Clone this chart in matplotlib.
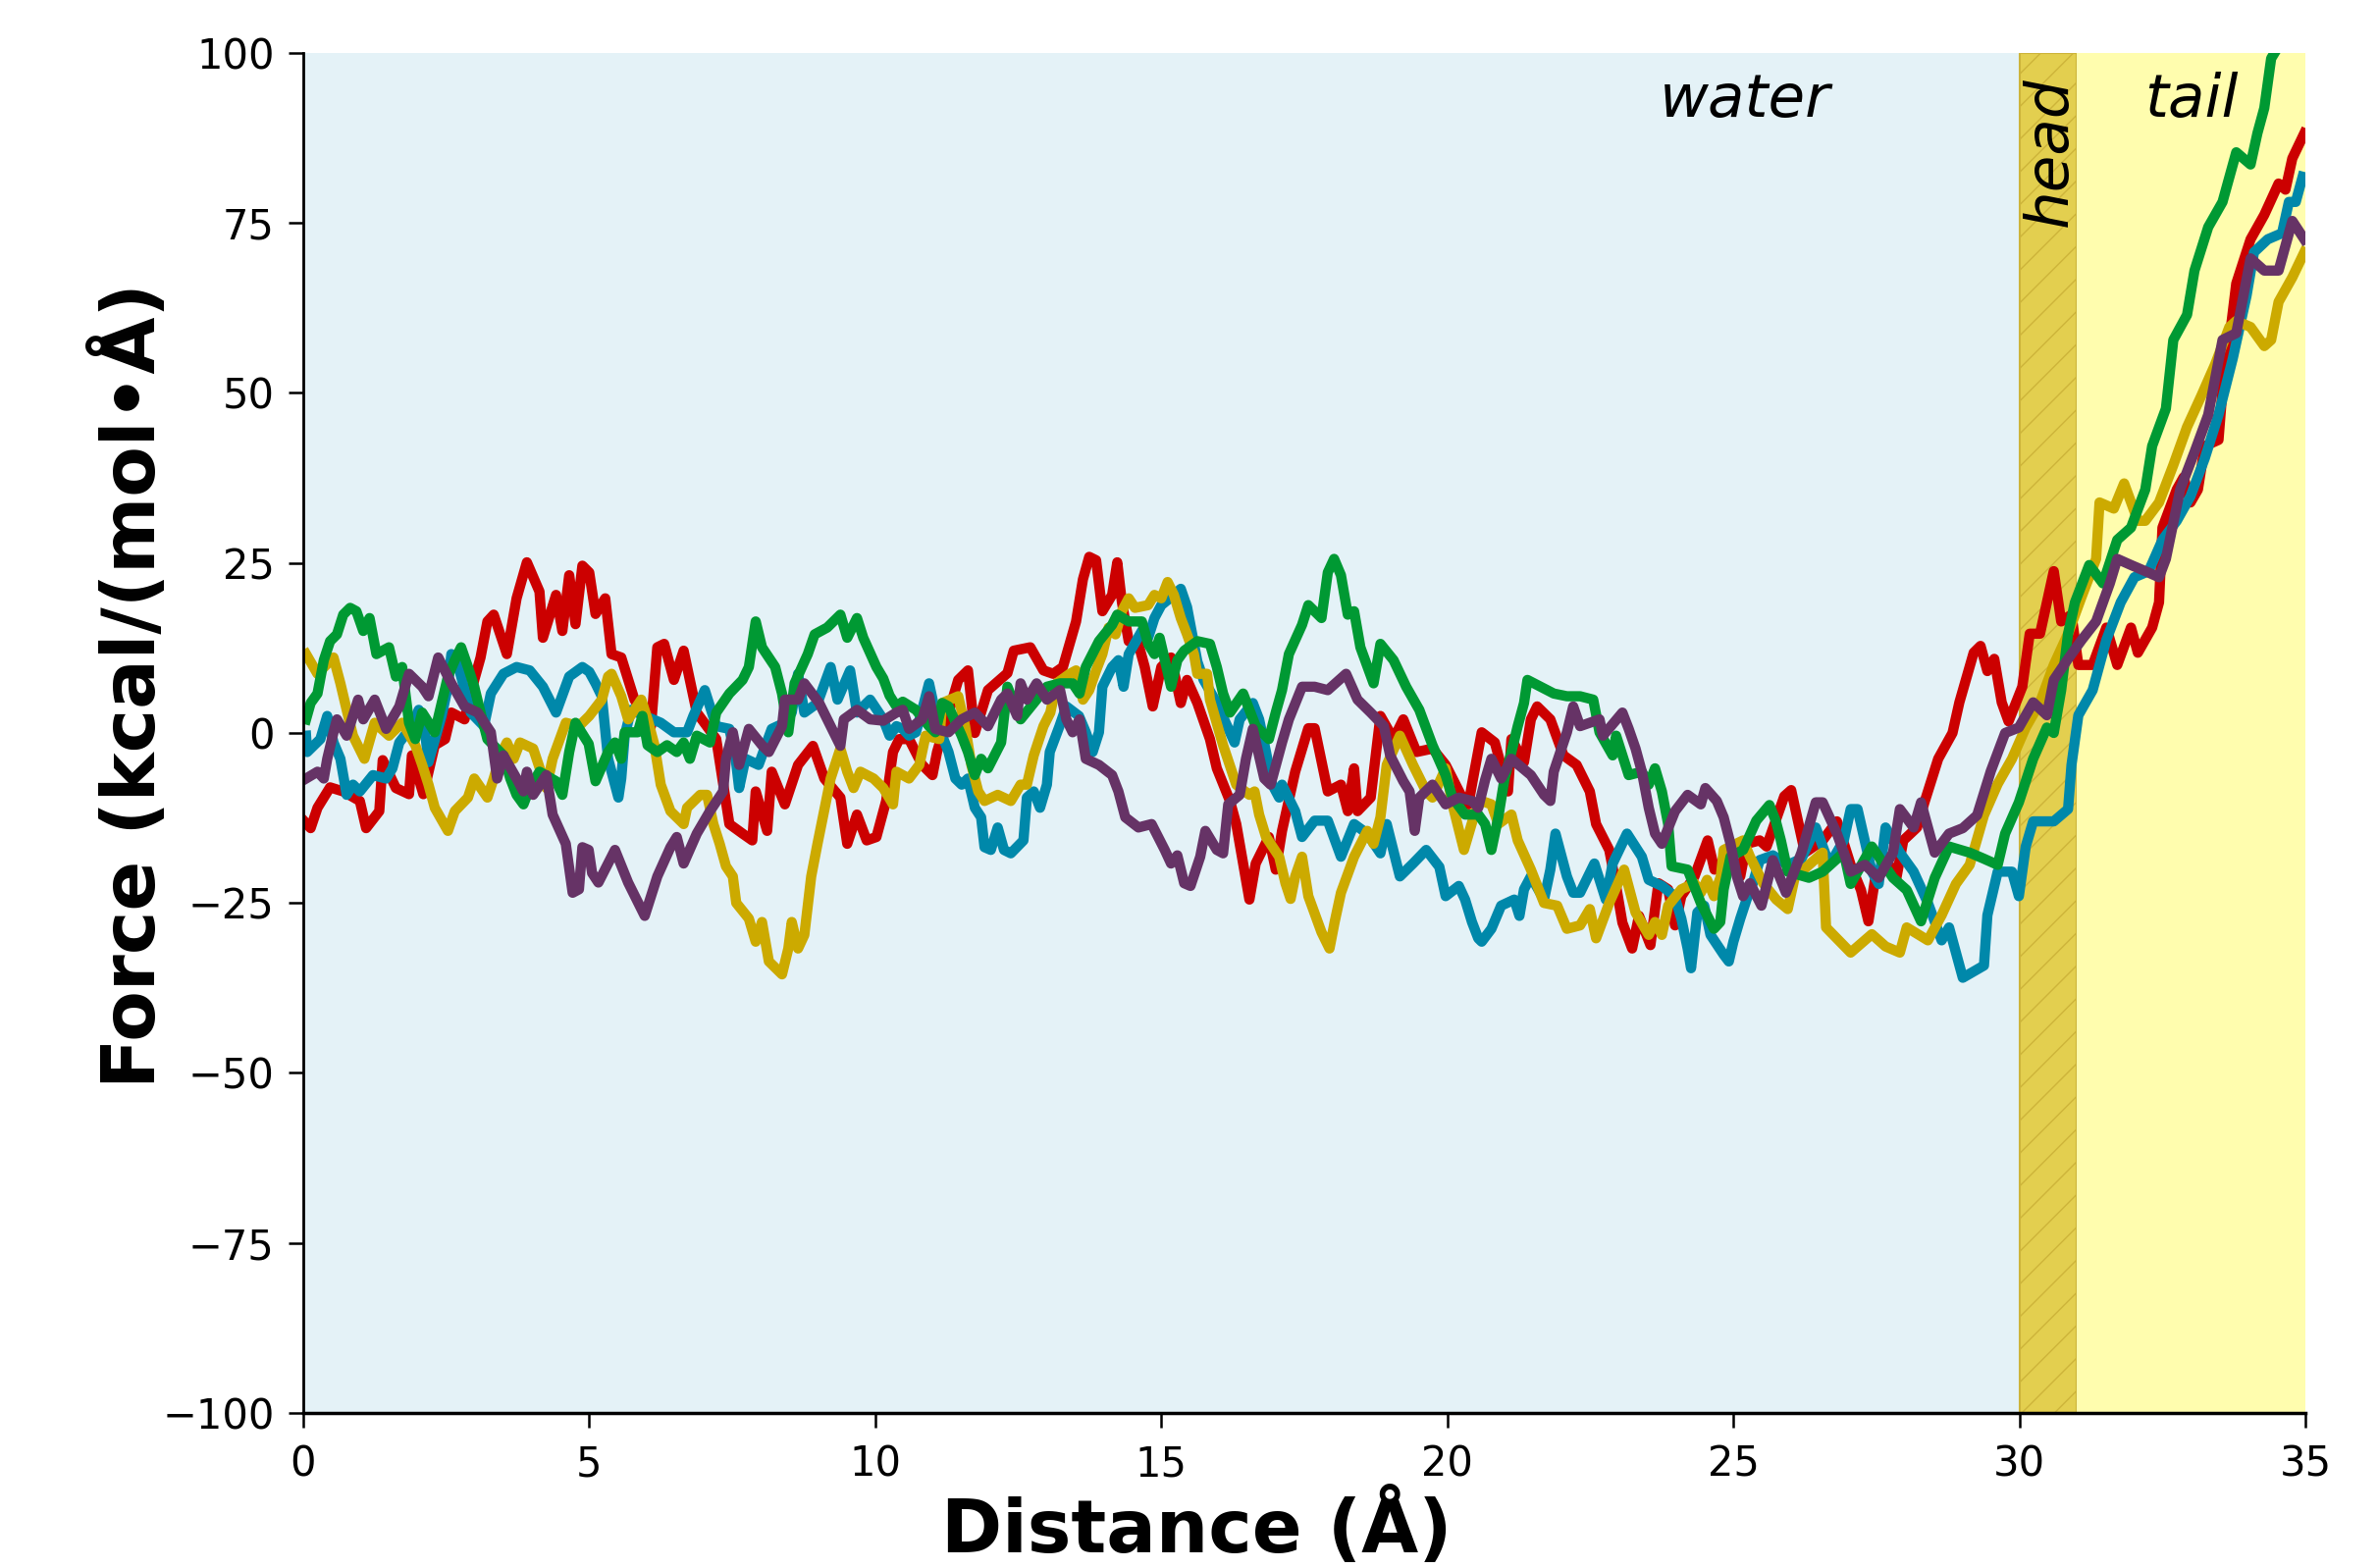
import matplotlib
matplotlib.use('Agg')
import matplotlib.pyplot as plt

# five force traces
red_x = [0.02, 0.13, 0.25, 0.47, 0.70, 0.99, 1.10, 1.33, 1.39, 1.62, 1.85, 1.90, 2.10, 2.30, 2.48, 2.59, 2.82, 2.99, 3.10, 3.22,
         3.33, 3.56, 3.73, 3.91, 4.13, 4.19, 4.42, 4.53, 4.65, 4.76, 4.88, 5.00, 5.11, 5.28, 5.39, 5.56, 5.79, 6.08, 6.19, 6.31,
         6.48, 6.65, 6.88, 7.22, 7.45, 7.68, 7.85, 7.91, 8.11, 8.19, 8.42, 8.65, 8.91, 9.11, 9.39, 9.51, 9.68, 9.85, 10.02, 10.19,
         10.31, 10.42, 10.59, 10.82, 11.00, 11.08, 11.45, 11.62, 11.74, 11.97, 12.31, 12.42, 12.71, 12.94, 13.11, 13.28, 13.51, 13.63, 13.74, 13.86,
         13.97, 14.14, 14.23, 14.31, 14.43, 14.60, 14.71, 14.85, 15.00, 15.17, 15.34, 15.45, 15.63, 15.85, 15.97, 16.20, 16.31, 16.43, 16.54, 16.65,
         16.88, 17.00, 17.11, 17.34, 17.57, 17.68, 17.91, 18.14, 18.26, 18.37, 18.43, 18.66, 18.83, 19.06, 19.23, 19.46, 19.74, 19.97, 20.26, 20.37,
         20.43, 20.60, 20.83, 21.06, 21.12, 21.34, 21.46, 21.57, 21.80, 22.03, 22.26, 22.49, 22.60, 22.83, 22.94, 23.06, 23.23, 23.35, 23.55, 23.63,
         23.69, 23.86, 23.98, 24.09, 24.32, 24.55, 24.67, 24.95, 25.12, 25.23, 25.46, 25.58, 25.89, 26.01, 26.25, 26.56, 26.81, 27.05, 27.23, 27.36,
         27.48, 27.72, 27.85, 27.97, 28.21, 28.34, 28.58, 28.83, 28.95, 29.20, 29.32, 29.44, 29.56, 29.69, 29.81, 30.05, 30.18, 30.36, 30.48, 30.60,
         30.73, 30.91, 31.03, 31.28, 31.52, 31.71, 31.95, 32.07, 32.32, 32.44, 32.50, 32.75, 32.87, 32.99, 33.12, 33.24, 33.48, 33.55, 33.67, 33.79,
         34.04, 34.28, 34.53, 34.65, 34.77, 34.98]
red_y = [-13, -14, -11, -8, -8.6, -10, -14, -11.5, -4, -8.1, -9, -3.3, -9, -1.8, -0.9, 3, 2, 7.8, 11.1, 16.4,
         17.4, 11.6, 19.8, 25.1, 20.8, 14, 20.3, 15, 23.2, 16, 24.6, 23.6, 17.5, 19.8, 11.6, 11.1, 4.9, 1.0, 12.6, 13.1,
         7.8, 12.1, 3, -0.9, -13.4, -14.8, -15.8, -8.6, -14.4, -5.7, -10.5, -4.7, -1.9, -6.7, -9.5, -16.3, -12, -15.8, -15.3, -10,
         -2.8, -0.9, -0.9, -4.7, -6.2, -2.8, 7.8, 9.2, 0, 6.3, 8.8, 12.1, 12.6, 9.2, 8.7, 9.7, 16.4, 22.6, 25.9, 25.4,
         17.9, 20.3, 25.1, 19.3, 13.5, 13.1, 9.7, 3.9, 9.7, 11.1, 4.4, 7.8, 4.4, -0.9, -5.2, -10, -13.4, -19.2, -24.5, -19.2,
         -15.3, -20.1, -14.4, -5.7, 0.7, 0.7, -8.6, -7.6, -11.5, -5.2, -11.5, -9.5, 2.5, -0.9, 2, -2.8, -2.3, -4.7, -9.5, -10.5,
         -7.6, 0.1, -1.4, -8.6, -0.9, -4.3, 2, 3.9, 2, -3.3, -4.7, -8.6, -13.4, -17.2, -22, -27.9, -31.7, -26.9, -31.2, -25.9,
         -22.1, -23, -28.3, -24, -21.1, -15.8, -20.1, -17.7, -21.1, -16.3, -15.8, -16.7, -9.3, -8.4, -17.6, -15.8, -13, -19.4, -23.1, -27.7,
         -21.3, -19.4, -21.3, -15.8, -13.9, -10.2, -3.8, 0, 4.5, 11.8, 12.8, 9.1, 10.9, 4.5, 1.7, 6.8, 14.6, 14.6, 19.2, 23.8,
         16.4, 17.4, 10, 10, 15.5, 10, 15.5, 11.8, 15.5, 19.2, 30.2, 35.8, 37.6, 33.9, 35.8, 42.2, 43.1, 50.5, 57.8, 66.1,
         72.6, 76.2, 80.8, 79.9, 84.5, 88.2]

green_x = [0.05, 0.13, 0.25, 0.36, 0.47, 0.59, 0.70, 0.82, 0.93, 1.05, 1.16, 1.28, 1.50, 1.62, 1.73, 1.85, 1.96, 2.08, 2.30, 2.42,
           2.53, 2.65, 2.76, 2.88, 2.99, 3.10, 3.22, 3.50, 3.62, 3.73, 3.85, 3.96, 4.13, 4.42, 4.53, 4.65, 4.76, 4.99, 5.11, 5.33,
           5.45, 5.56, 5.62, 5.85, 5.93, 6.02, 6.19, 6.36, 6.53, 6.65, 6.76, 6.88, 7.11, 7.22, 7.45, 7.68, 7.79, 7.91, 8.02, 8.25,
           8.37, 8.48, 8.59, 8.82, 8.94, 9.16, 9.39, 9.51, 9.68, 9.79, 10.02, 10.14, 10.25, 10.37, 10.48, 10.71, 10.94, 11.05, 11.17, 11.28,
           11.51, 11.62, 11.74, 11.85, 11.97, 12.20, 12.31, 12.54, 12.77, 13.00, 13.23, 13.45, 13.57, 13.68, 13.91, 14.14, 14.23, 14.43, 14.66, 14.77,
           14.88, 14.97, 15.17, 15.28, 15.40, 15.63, 15.85, 15.97, 16.08, 16.20, 16.43, 16.65, 16.88, 17.00, 17.11, 17.23, 17.46, 17.57, 17.80, 17.91,
           18.02, 18.14, 18.26, 18.37, 18.48, 18.71, 18.83, 19.06, 19.28, 19.51, 19.74, 19.97, 20.09, 20.31, 20.54, 20.66, 20.77, 20.89, 21.00, 21.12,
           21.23, 21.34, 21.40, 21.63, 21.86, 22.09, 22.32, 22.55, 22.66, 22.89, 22.95, 23.17, 23.40, 23.52, 23.63, 23.75, 23.86, 23.92, 24.20, 24.43,
           24.66, 24.77, 24.83, 24.95, 25.17, 25.40, 25.63, 25.74, 25.83, 25.95, 26.32, 26.56, 26.81, 26.93, 27.05, 27.42, 27.79, 28.03, 28.28, 28.52,
           28.77, 29.13, 29.38, 29.62, 29.75, 29.99, 30.24, 30.48, 30.60, 30.73, 30.85, 30.97, 31.22, 31.46, 31.71, 31.95, 32.20, 32.32, 32.56, 32.69,
           32.93, 33.06, 33.30, 33.55, 33.79, 34.04, 34.16, 34.28, 34.40, 34.53, 34.70]
green_y = [2, 4.4, 5.8, 10.7, 13.5, 14.5, 17.4, 18.4, 17.9, 15, 16.9, 11.6, 12.6, 8.3, 9.7, 1.5, -0.9, 3, 0.1, 4.4,
           8.3, 10.7, 12.6, 9.7, 6.8, 3, -0.9, -3.3, -6.7, -9.1, -10.5, -8.1, -5.7, -7.1, -9.1, -2.8, 1.5, -1.6, -7.1, -2.8,
           -1.4, -3.8, 0.1, 0.1, 2.5, -1.8, -2.8, -1.8, -2.8, -1.4, -3.8, -0.4, -1.4, 3, 5.8, 7.8, 9.7, 16.4, 12.6, 9.7,
           5.8, 0.1, 7.3, 11.6, 14.5, 15.5, 17.4, 14, 16.9, 14, 9.7, 8, 5.5, 3.9, 4.6, 3.4, 1, 0.1, 4.4, 3.9,
           -0.4, -2.8, -6.2, -3.8, -5.2, -1.4, 6.8, 2, 4.4, 6.8, 7.3, 7.3, 5.8, 9.7, 13.5, 15.9, 17.4, 16.4, 16.4, 13.1,
           11.6, 14, 6.8, 10.7, 12.1, 13.5, 13.1, 9.7, 5.8, 3, 5.8, 1, -0.9, 3, 6.3, 11.6, 15.9, 18.8, 16.9, 23.6,
           25.6, 23.2, 17.4, 17.9, 12.6, 7.3, 13.1, 10.7, 6.8, 3.4, -1.8, -6.2, -9.5, -12, -12, -13.4, -17.2, -12.4, -6.7, -2.8,
           1, 4.4, 7.8, 6.8, 5.8, 5.4, 5.4, 4.9, 0.1, -3.3, -0.4, -6.2, -5.7, -7.6, -5.2, -8.6, -13.4, -19.6, -20.1, -25,
           -28.8, -27.8, -23, -18.2, -17.2, -12.9, -10.6, -12.9, -15.8, -20.4, -21.3, -20.4, -18.5, -17.6, -22.2, -16.7, -21.3, -23.1, -27.7, -21.3,
           -16.7, -17.6, -18.5, -19.4, -14.8, -10.2, -3.8, 0.8, 0, 6.3, 14.6, 19.2, 24.7, 22, 28.4, 30.2, 35.8, 42.2, 47.7, 57.8,
           61.5, 68, 74.4, 78.1, 85.4, 83.6, 88.2, 91.9, 99.2, 101, 106]

blue_x = [0.05, 0.07, 0.30, 0.42, 0.53, 0.65, 0.76, 0.87, 0.99, 1.22, 1.45, 1.56, 1.68, 1.90, 2.02, 2.13, 2.19, 2.42, 2.53, 2.59,
          2.70, 2.93, 3.16, 3.28, 3.50, 3.73, 3.96, 4.19, 4.42, 4.65, 4.88, 5.00, 5.11, 5.22, 5.33, 5.51, 5.56, 5.62, 5.73, 5.97,
          6.25, 6.48, 6.71, 6.82, 7.02, 7.22, 7.45, 7.56, 7.62, 7.73, 7.96, 8.19, 8.42, 8.54, 8.65, 8.76, 8.99, 9.22, 9.34, 9.56,
          9.68, 9.91, 10.14, 10.25, 10.37, 10.48, 10.59, 10.71, 10.82, 10.94, 11.05, 11.17, 11.28, 11.40, 11.51, 11.62, 11.74, 11.85, 11.91, 12.02,
          12.14, 12.25, 12.37, 12.59, 12.65, 12.77, 12.88, 13.00, 13.05, 13.22, 13.34, 13.56, 13.68, 13.80, 13.91, 13.97, 14.14, 14.25, 14.34, 14.43,
          14.66, 14.77, 14.88, 15.00, 15.22, 15.34, 15.45, 15.54, 15.63, 15.74, 15.97, 16.20, 16.28, 16.37, 16.60, 16.71, 16.83, 16.94, 17.06, 17.11,
          17.34, 17.46, 17.68, 17.91, 18.14, 18.37, 18.60, 18.83, 18.94, 19.17, 19.40, 19.63, 19.86, 19.97, 20.20, 20.31, 20.43, 20.54, 20.60, 20.77,
          20.94, 21.17, 21.26, 21.34, 21.46, 21.69, 21.80, 21.89, 22.09, 22.20, 22.32, 22.57, 22.77, 22.89, 23.14, 23.40, 23.52, 23.75, 23.97, 24.09,
          24.20, 24.26, 24.37, 24.49, 24.60, 24.83, 24.92, 25.00, 25.12, 25.23, 25.34, 25.46, 25.69, 25.95, 26.19, 26.44, 26.68, 26.93, 27.05, 27.17,
          27.42, 27.54, 27.66, 27.91, 28.15, 28.40, 28.64, 28.77, 29.01, 29.38, 29.44, 29.62, 29.87, 29.99, 30.11, 30.24, 30.60, 30.85, 30.91, 31.03,
          31.28, 31.52, 31.77, 32.01, 32.26, 32.50, 32.75, 32.99, 33.24, 33.48, 33.73, 33.97, 34.10, 34.34, 34.59, 34.71, 34.83, 34.95]
blue_y = [-0.4, -2.8, -0.9, 2.5, -1.4, -3.8, -9.1, -7.6, -8.6, -6.2, -6.7, -5.2, -1.4, 1, 3.4, 0.1, -4.3, 2.5, 6.8, 11.6,
          10.2, 3, 1, 5.8, 8.7, 9.7, 9.2, 6.8, 3, 8.3, 9.7, 9, 7.3, 5.4, -3.8, -9.5, -6.7, -0.4, 3.4, 2.5,
          1.5, 0.1, 0.1, 2.5, 6.3, 1, 0.6, -3.8, -8.1, -3.8, -4.7, 0.6, 1.5, 3, 8.7, 3, 4.4, 9.7, 4.9, 9.2,
          3, 4.9, 2, -0.4, 1, 0.6, -0.4, 0.1, 3.4, 7.3, 3, -0.4, -2.8, -6.7, -7.6, -6.7, -11, -12.4, -16.8, -17.2,
          -13.9, -17.2, -17.7, -15.8, -9.5, -8.6, -11, -7.6, -2.8, 1, 3.9, 2.5, 0.1, -2.8, 0.1, 6.8, 9.7, 10.7, 6.8, 11.6,
          15, 14, 16.9, 18.8, 20.3, 21.2, 18.5, 14.5, 10.5, 7.8, 4.4, 0.1, -1.4, 2, 4.4, 2, -2.8, -7.6, -9.5, -7.6,
          -11.5, -15.3, -12.9, -12.9, -18.2, -13.4, -14.8, -17.7, -13.4, -21.1, -19.2, -17.2, -19.7, -24, -22.5, -24.5, -27.8, -30.2, -30.7, -28.8,
          -25.4, -24.5, -26.9, -23, -21.1, -24.5, -20.1, -14.8, -21.1, -23.5, -23.5, -19.2, -24.5, -19.2, -14.8, -18.2, -21.6, -22.5, -24, -27.3,
          -31.7, -34.6, -26.4, -25.4, -29.7, -32.6, -33.6, -30.7, -27.3, -24.5, -22.1, -18.7, -18, -19.4, -18.5, -13.9, -19.4, -15.8, -11.2, -11.2,
          -20.4, -22.2, -13.9, -17.6, -20.4, -25, -30.5, -28.6, -36, -34.2, -26.8, -20.4, -20.4, -24, -16.7, -13, -13, -11.2, -4.7, 2.6,
          6.3, 13.7, 19.2, 22.9, 23.8, 28.4, 31.2, 34.8, 40.4, 46.8, 55.1, 64.3, 70.7, 72.6, 73.5, 78.1, 78.1, 81.8]

yellow_x = [0.05, 0.25, 0.53, 0.65, 0.76, 0.87, 1.07, 1.25, 1.50, 1.73, 1.96, 2.08, 2.19, 2.30, 2.53, 2.65, 2.88, 2.99, 3.22, 3.33,
            3.45, 3.56, 3.68, 3.79, 4.02, 4.25, 4.36, 4.59, 4.82, 5.00, 5.22, 5.33, 5.39, 5.56, 5.68, 5.91, 6.02, 6.14, 6.25, 6.42,
            6.65, 6.71, 6.94, 7.06, 7.17, 7.28, 7.39, 7.51, 7.57, 7.79, 7.91, 8.02, 8.14, 8.37, 8.48, 8.54, 8.65, 8.76, 8.88, 8.99,
            9.22, 9.39, 9.51, 9.62, 9.74, 9.97, 10.14, 10.31, 10.37, 10.59, 10.77, 10.88, 11.12, 11.17, 11.45, 11.57, 11.68, 11.80, 11.91, 12.14,
            12.37, 12.54, 12.65, 12.77, 12.94, 13.06, 13.17, 13.40, 13.51, 13.63, 13.74, 13.86, 13.97, 14.08, 14.20, 14.31, 14.43, 14.54, 14.77, 14.88,
            15.00, 15.11, 15.22, 15.34, 15.45, 15.57, 15.63, 15.80, 15.85, 16.08, 16.31, 16.54, 16.63, 16.71, 16.83, 17.06, 17.17, 17.26, 17.34, 17.46,
            17.57, 17.80, 17.94, 18.03, 18.14, 18.37, 18.60, 18.71, 18.83, 18.94, 19.17, 19.40, 19.63, 19.74, 19.97, 20.09, 20.29, 20.49, 20.60, 20.77,
            20.89, 21.12, 21.23, 21.46, 21.69, 21.92, 22.09, 22.32, 22.49, 22.60, 22.83, 23.09, 23.29, 23.52, 23.63, 23.75, 23.86, 24.09, 24.32, 24.43,
            24.54, 24.66, 24.78, 24.83, 25.17, 25.29, 25.52, 25.75, 25.95, 26.07, 26.44, 26.56, 26.62, 27.05, 27.42, 27.66, 27.91, 28.03, 28.40, 28.64,
            28.89, 29.13, 29.38, 29.62, 29.87, 30.11, 30.36, 30.60, 30.85, 31.09, 31.34, 31.40, 31.65, 31.83, 32.07, 32.20, 32.44, 32.69, 32.93, 33.18,
            33.42, 33.67, 33.79, 34.04, 34.28, 34.40, 34.53, 34.77, 34.98]
yellow_y = [11.6, 8.7, 11.1, 7.3, 3.4, -0.4, -3.8, 1.5, -0.4, 1.5, -1.8, -4.7, -7.6, -11, -14.4, -11.5, -9.5, -6.7, -9.5, -6.7,
            -3.3, -1.4, -3.8, -1.4, -2.3, -8.1, -3.8, 1.5, 1, 2.5, 4.9, 8.3, 8.7, 5.4, 2, 4.9, 2, -1.8, -7.6, -11.5,
            -13.4, -11, -9.1, -9.1, -13.4, -16.3, -19.6, -21.1, -25, -27.3, -30.7, -27.8, -33.6, -35.5, -31.7, -27.8, -31.7, -29.7, -21.1, -16.3,
            -6.7, -2.3, -5.7, -8.1, -5.7, -6.7, -8.1, -10.5, -5.7, -6.7, -4.7, -0.4, -0.9, 4.4, 5.4, 1, -4.7, -8.6, -10, -9.1,
            -10, -7.6, -7.6, -3.3, 1, 3, 7.3, 8.7, 9.2, 4.9, 6.3, 9.2, 11.6, 15.5, 14.5, 17.9, 19.8, 18.4, 18.8, 20.3,
            19.8, 22.2, 20.3, 16.9, 14.5, 11.6, 8.7, 8.7, 4.9, -1.8, -7.6, -9.1, -8.6, -12, -15.3, -18.2, -22.1, -24.4, -21.1, -18.2,
            -24, -29.3, -31.7, -27.8, -23.5, -18.2, -14.4, -16.3, -12.4, -4.7, -0.4, -4.7, -8.6, -9.5, -5.2, -10.5, -17.2, -11.5, -10, -10.5,
            -13.4, -12, -15.8, -20.1, -25, -25.4, -28.8, -28.3, -25.9, -30.2, -25, -20.1, -26.4, -29.7, -27.8, -29.7, -25.4, -23, -22.1, -23.5,
            -21.6, -24, -21.1, -17.2, -15.8, -18.2, -22.1, -24.5, -25.9, -21.3, -18.5, -17.6, -28.6, -32.3, -29.6, -31.4, -32.3, -28.6, -30.5, -26.8,
            -22.2, -19.4, -12.1, -7.5, -3.8, 0.8, 4.5, 10, 14.6, 20.1, 25.6, 33.9, 33, 36.7, 31.2, 31.2, 33.9, 39.4, 45, 49.6,
            54.2, 59.7, 60.6, 59.7, 56.9, 57.8, 63.4, 67, 70.7]

purple_x = [0.05, 0.25, 0.36, 0.42, 0.53, 0.59, 0.76, 0.96, 1.05, 1.25, 1.45, 1.68, 1.85, 2.08, 2.19, 2.36, 2.59, 2.82, 3.05, 3.28,
            3.39, 3.50, 3.73, 3.85, 3.91, 4.02, 4.25, 4.36, 4.59, 4.71, 4.82, 4.88, 4.99, 5.05, 5.16, 5.39, 5.45, 5.68, 5.91, 5.97,
            6.19, 6.42, 6.53, 6.65, 6.88, 7.11, 7.34, 7.39, 7.51, 7.62, 7.79, 8.02, 8.14, 8.37, 8.42, 8.65, 8.76, 9.02, 9.22, 9.39,
            9.45, 9.68, 9.91, 10.14, 10.37, 10.48, 10.59, 10.82, 10.94, 11.05, 11.28, 11.51, 11.74, 11.97, 12.20, 12.31, 12.48, 12.54, 12.65, 12.82,
            13.00, 13.23, 13.34, 13.45, 13.57, 13.68, 13.91, 14.14, 14.25, 14.37, 14.60, 14.83, 15.06, 15.17, 15.28, 15.40, 15.51, 15.68, 15.77, 15.97,
            16.08, 16.17, 16.37, 16.48, 16.60, 16.80, 16.91, 17.11, 17.23, 17.46, 17.68, 17.91, 18.23, 18.43, 18.66, 18.89, 19.00, 19.23, 19.34, 19.43,
            19.51, 19.74, 19.97, 20.20, 20.43, 20.54, 20.66, 20.77, 20.94, 21.12, 21.46, 21.69, 21.80, 21.86, 22.09, 22.20, 22.32, 22.66, 22.72, 23.06,
            23.17, 23.29, 23.40, 23.52, 23.63, 23.75, 23.98, 24.20, 24.43, 24.51, 24.71, 24.83, 24.95, 25.06, 25.17, 25.29, 25.49, 25.69, 25.92, 26.19,
            26.44, 26.56, 26.81, 27.05, 27.30, 27.54, 27.79, 27.91, 28.15, 28.28, 28.52, 28.77, 29.01, 29.26, 29.50, 29.75, 29.99, 30.24, 30.48, 30.60,
            30.85, 31.09, 31.34, 31.58, 31.71, 31.95, 32.20, 32.44, 32.56, 32.81, 33.06, 33.30, 33.55, 33.79, 34.04, 34.28, 34.53, 34.77, 34.98]
purple_y = [-6.7, -5.7, -6.7, -3.8, 0.1, 2, -0.4, 4.9, 2, 4.9, 0.6, 3.9, 8.7, 6.8, 5.4, 11.1, 7.3, 3.9, 3, 0.1,
            -6.7, -3.3, -6.7, -8.6, -5.7, -9.1, -6.2, -12, -16.3, -23.5, -23, -16.8, -17.2, -20.6, -22, -18.2, -17.2, -22, -25.9, -26.9,
            -21.1, -16.8, -15.3, -19.2, -14.8, -11.5, -8.6, -3.8, 0.1, -4.7, 0.6, -1.8, -2.8, 1, 4.9, 4.9, 7.3, 4.4, 1, -1.9,
            2, 3.4, 2, 1.8, 3, 3.4, 0.6, 2, 5.4, 0.6, 0.1, 2, 3, 1, 4.9, 5.8, 2.5, 7.3, 4.9, 7.3,
            4.9, 6.3, 2, 0.1, 2, -3.8, -4.7, -6.2, -8.6, -12.4, -13.9, -13.4, -17.2, -19.2, -18, -22.1, -22.5, -18.2, -14.4, -17.2,
            -17.7, -10.5, -9.1, -3.8, 0.6, -6.7, -7.6, -1.4, 2, 6.8, 6.8, 6.3, 8.7, 4.9, 3, 1, -3.3, -7.1, -8.6, -14.4,
            -9.5, -7.6, -10.5, -9.5, -10, -11, -6.9, -3.8, -6.7, -3.8, -6.2, -9.1, -10, -5.7, 0.1, 3.9, 1, 2, -0.4, 3,
            0.6, -2.3, -5.7, -11, -14.8, -16.3, -11.5, -9.1, -10.5, -8.1, -10, -12.4, -16.3, -21.1, -24, -22.1, -25.4, -18.7, -23.5, -17.6,
            -10.2, -10.2, -14.8, -20.4, -19.4, -21.3, -17.6, -11.2, -13.9, -10.2, -17.6, -14.8, -14, -12.1, -5.6, 0, 0.8, 4.5, 2.6, 7.8,
            10.9, 13.7, 16.4, 22, 25.6, 24.7, 23.8, 22.9, 25.6, 35.8, 41.3, 46.8, 57.8, 58.8, 69.8, 68, 68, 75.3, 72.6]

series = [(red_x, red_y, '#CC0000'),
          (blue_x, blue_y, '#0088AA'),
          (yellow_x, yellow_y, '#CCAA00'),
          (green_x, green_y, '#009933'),
          (purple_x, purple_y, '#663366')]

fig = plt.figure(figsize=(24.23, 15.98), dpi=100)
ax = fig.add_axes([0.1275, 0.0989, 0.842, 0.8673])

# membrane regions
ax.axvspan(0, 30, color='#E4F2F7', zorder=0, lw=0)
ax.axvspan(30, 31, facecolor='#E3CF4F', edgecolor='#CDB43A', hatch='/', lw=1.5, zorder=0)
ax.axvspan(31, 35, color='#FFFDAE', zorder=0, lw=0)

for xs, ys, c in series:
    ax.plot(xs, ys, color=c, lw=7.5, solid_joinstyle='round')

ax.text(25.2, 93, 'water', fontsize=44, style='italic', ha='center', va='center')
ax.text(30.55, 85.5, 'head', fontsize=44, style='italic', rotation=90, ha='center', va='center')
ax.text(33.0, 93, 'tail', fontsize=44, style='italic', ha='center', va='center')

ax.set_xlim(0, 35)
ax.set_ylim(-100, 100)
ax.set_xticks(range(0, 36, 5))
ax.set_yticks(range(-100, 101, 25))
ax.spines['top'].set_visible(False)
ax.spines['right'].set_visible(False)
ax.spines['left'].set_linewidth(2)
ax.spines['bottom'].set_linewidth(2.5)
ax.tick_params(labelsize=30, length=11, width=1.8)
ax.tick_params(axis='x', pad=12)
ax.tick_params(axis='y', pad=10)

lab_font = dict(family='DejaVu Sans', fontweight='bold', fontsize=54)
ax.set_xlabel('Distance (Å)', **lab_font)
ax.set_ylabel('Force (kcal/(mol•Å)', **lab_font)
ax.xaxis.set_label_coords(0.446, -0.056)
ax.yaxis.set_label_coords(-0.066, 0.535)

fig.savefig('out.png', dpi=100)
